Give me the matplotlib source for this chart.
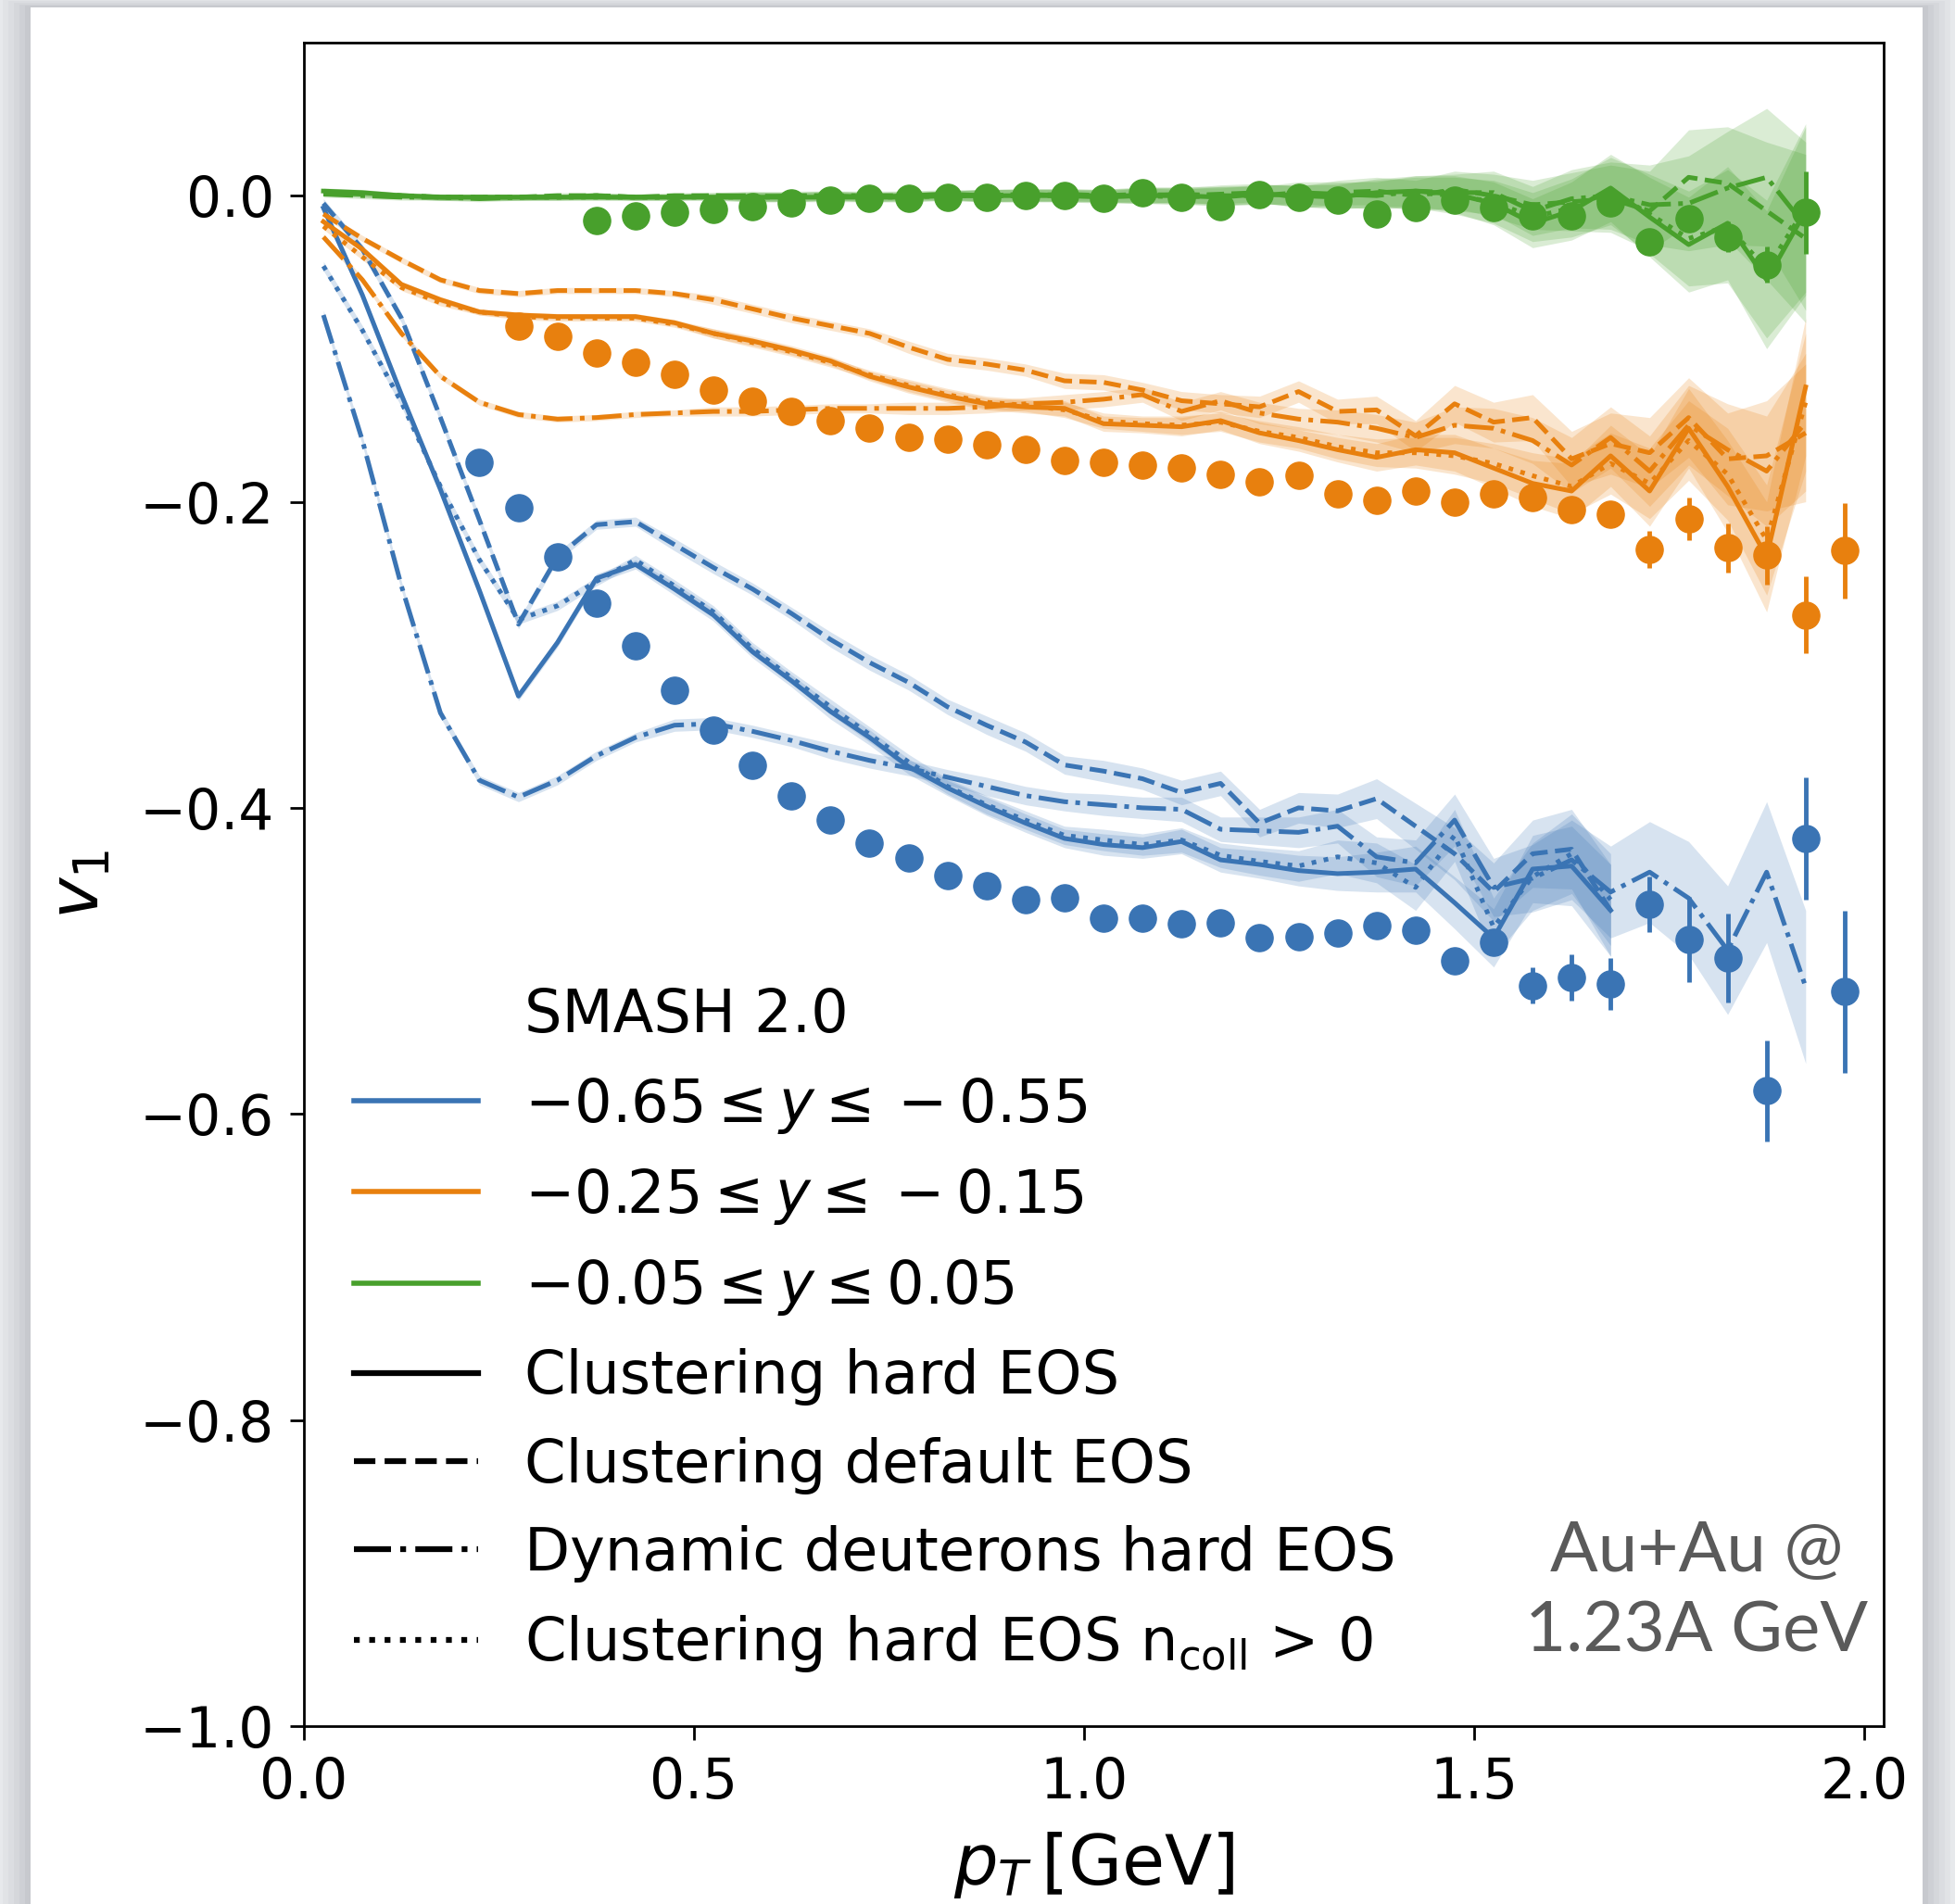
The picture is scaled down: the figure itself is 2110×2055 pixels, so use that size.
import matplotlib
matplotlib.use("Agg")
import matplotlib.pyplot as plt
from matplotlib.lines import Line2D
from matplotlib.patches import Rectangle
import numpy as np

# ---------------- data ----------------
pt_model = [0.025, 0.075, 0.125, 0.175, 0.225, 0.275, 0.325, 0.375, 0.425, 0.475,
            0.525, 0.575, 0.625, 0.675, 0.725, 0.775, 0.825, 0.875, 0.925, 0.975,
            1.025, 1.075, 1.125, 1.175, 1.225, 1.275, 1.325, 1.375, 1.425, 1.475,
            1.525, 1.575, 1.625, 1.675, 1.725, 1.775, 1.825, 1.875, 1.925]

# -0.65 <= y <= -0.55 (solid/dashed/dotted stop at 1.675)
blue_hard = [-0.008, -0.065, -0.130, -0.192, -0.258, -0.327, -0.292, -0.250, -0.241, -0.257,
             -0.274, -0.298, -0.317, -0.337, -0.354, -0.373, -0.387, -0.399, -0.410, -0.420,
             -0.424, -0.426, -0.422, -0.434, -0.437, -0.441, -0.443, -0.442, -0.440, -0.462,
             -0.485, -0.440, -0.438, -0.467]
blue_default = [-0.005, -0.035, -0.080, -0.145, -0.212, -0.280, -0.236, -0.215, -0.213, -0.228,
                -0.243, -0.257, -0.273, -0.290, -0.305, -0.318, -0.334, -0.346, -0.357, -0.372,
                -0.376, -0.381, -0.390, -0.384, -0.410, -0.400, -0.402, -0.394, -0.412, -0.430,
                -0.455, -0.430, -0.427, -0.467]
blue_ncoll = [-0.046, -0.088, -0.135, -0.190, -0.238, -0.277, -0.268, -0.252, -0.238, -0.255,
              -0.272, -0.296, -0.315, -0.334, -0.352, -0.370, -0.386, -0.398, -0.408, -0.418,
              -0.421, -0.424, -0.421, -0.431, -0.435, -0.438, -0.432, -0.436, -0.452, -0.418,
              -0.478, -0.445, -0.430, -0.460]
blue_dyn = [-0.078, -0.160, -0.255, -0.338, -0.382, -0.393, -0.382, -0.366, -0.354, -0.346,
            -0.345, -0.350, -0.356, -0.363, -0.369, -0.374, -0.380, -0.386, -0.392, -0.396,
            -0.398, -0.400, -0.401, -0.414, -0.415, -0.416, -0.412, -0.432, -0.436, -0.408,
            -0.452, -0.446, -0.434, -0.455, -0.442, -0.459, -0.493, -0.442, -0.517]

# -0.25 <= y <= -0.15
orange_hard = [-0.017, -0.035, -0.058, -0.068, -0.076, -0.078, -0.079, -0.079, -0.079, -0.083,
               -0.090, -0.095, -0.101, -0.108, -0.118, -0.125, -0.131, -0.136, -0.138, -0.139,
               -0.149, -0.150, -0.151, -0.147, -0.155, -0.160, -0.166, -0.171, -0.166, -0.168,
               -0.178, -0.188, -0.193, -0.170, -0.193, -0.152, -0.190, -0.236, -0.125]
orange_default = [-0.012, -0.028, -0.042, -0.055, -0.062, -0.064, -0.062, -0.062, -0.062, -0.064,
                  -0.068, -0.074, -0.080, -0.085, -0.090, -0.099, -0.107, -0.110, -0.114, -0.121,
                  -0.122, -0.127, -0.134, -0.136, -0.138, -0.128, -0.141, -0.140, -0.157, -0.136,
                  -0.148, -0.145, -0.172, -0.162, -0.168, -0.145, -0.172, -0.170, -0.155]
orange_dyn = [-0.027, -0.055, -0.090, -0.118, -0.135, -0.143, -0.146, -0.145, -0.143, -0.142,
              -0.141, -0.141, -0.140, -0.139, -0.139, -0.139, -0.139, -0.138, -0.136, -0.135,
              -0.133, -0.130, -0.141, -0.134, -0.142, -0.146, -0.148, -0.152, -0.158, -0.150,
              -0.152, -0.160, -0.176, -0.158, -0.180, -0.150, -0.166, -0.180, -0.148]
orange_ncoll = [-0.020, -0.040, -0.060, -0.070, -0.076, -0.079, -0.080, -0.080, -0.080, -0.084,
                -0.090, -0.096, -0.102, -0.109, -0.117, -0.124, -0.130, -0.135, -0.137, -0.140,
                -0.147, -0.149, -0.150, -0.148, -0.154, -0.158, -0.164, -0.168, -0.168, -0.170,
                -0.175, -0.183, -0.190, -0.175, -0.188, -0.160, -0.182, -0.225, -0.135]

# -0.05 <= y <= 0.05
green_hard = [0.003, 0.002, 0.000, -0.001, -0.001, -0.001, -0.001, -0.001, -0.001, -0.001,
              -0.001, -0.001, -0.001, -0.001, -0.001, -0.001, 0.000, 0.000, 0.000, 0.000,
              -0.001, 0.000, 0.000, -0.001, 0.001, 0.000, -0.001, 0.002, 0.003, 0.001,
              -0.005, -0.018, -0.010, 0.005, -0.014, -0.032, -0.018, -0.055, -0.010]
green_default = [0.002, 0.001, 0.000, -0.001, -0.001, -0.001, 0.000, 0.000, -0.001, 0.000,
                 0.000, -0.001, 0.000, 0.000, -0.001, 0.000, 0.000, 0.000, 0.001, 0.000,
                 0.000, 0.001, 0.000, 0.001, 0.002, -0.001, 0.002, 0.003, 0.000, 0.004,
                 0.000, -0.006, -0.004, -0.002, -0.010, 0.012, 0.008, -0.010, -0.028]
green_dyn = [0.001, 0.000, -0.001, -0.001, -0.002, -0.001, -0.001, 0.000, -0.001, -0.001,
             0.000, 0.000, -0.001, 0.000, 0.000, 0.000, 0.001, 0.000, 0.000, 0.001,
             0.000, 0.000, 0.001, 0.000, 0.000, 0.002, 0.001, 0.000, 0.003, 0.002,
             0.002, -0.010, -0.002, 0.000, -0.006, -0.005, 0.005, 0.012, -0.020]
green_ncoll = [0.002, 0.001, 0.000, -0.001, -0.001, -0.001, -0.001, -0.001, -0.001, -0.001,
               -0.001, -0.001, -0.001, 0.000, -0.001, -0.001, 0.000, 0.000, 0.000, 0.000,
               0.000, 0.000, -0.001, 0.000, 0.001, 0.000, 0.000, 0.001, 0.002, 0.000,
               -0.004, -0.014, -0.008, 0.003, -0.012, -0.028, -0.020, -0.048, -0.008]

# statistical bands (half widths) of the model curves
blue_band = [0.003, 0.003, 0.003, 0.003, 0.003, 0.003, 0.003, 0.003, 0.003, 0.004,
             0.004, 0.004, 0.004, 0.005, 0.005, 0.005, 0.005, 0.006, 0.006, 0.006,
             0.007, 0.007, 0.008, 0.008, 0.009, 0.010, 0.011, 0.013, 0.015, 0.017,
             0.019, 0.022, 0.026, 0.030, 0.033, 0.037, 0.042, 0.046, 0.050]
orange_band = [0.002, 0.002, 0.002, 0.002, 0.002, 0.002, 0.002, 0.002, 0.002, 0.002,
               0.003, 0.003, 0.003, 0.003, 0.003, 0.004, 0.004, 0.004, 0.004, 0.005,
               0.005, 0.005, 0.006, 0.006, 0.007, 0.007, 0.008, 0.009, 0.010, 0.012,
               0.013, 0.015, 0.018, 0.020, 0.023, 0.026, 0.030, 0.036, 0.045]
green_band = [0.002, 0.002, 0.002, 0.002, 0.002, 0.002, 0.002, 0.002, 0.002, 0.002,
              0.002, 0.003, 0.003, 0.003, 0.003, 0.003, 0.003, 0.004, 0.004, 0.004,
              0.004, 0.005, 0.005, 0.006, 0.006, 0.007, 0.008, 0.009, 0.010, 0.012,
              0.014, 0.016, 0.019, 0.022, 0.026, 0.031, 0.037, 0.045, 0.055]

# HADES data points
pt_data = [0.225, 0.275, 0.325, 0.375, 0.425, 0.475, 0.525, 0.575, 0.625, 0.675,
           0.725, 0.775, 0.825, 0.875, 0.925, 0.975, 1.025, 1.075, 1.125, 1.175,
           1.225, 1.275, 1.325, 1.375, 1.425, 1.475, 1.525, 1.575, 1.625, 1.675,
           1.725, 1.775, 1.825, 1.875, 1.925, 1.975]
nan = np.nan
blue_data = [-0.174, -0.204, -0.236, -0.266, -0.294, -0.323, -0.349, -0.372, -0.392, -0.408,
             -0.423, -0.433, -0.444, -0.451, -0.460, -0.459, -0.472, -0.472, -0.476, -0.475,
             -0.485, -0.484, -0.482, -0.477, -0.480, -0.500, -0.488, -0.516, -0.511, -0.515,
             -0.463, -0.486, -0.498, -0.585, -0.420, -0.520]
blue_err = [0.003, 0.003, 0.003, 0.003, 0.003, 0.003, 0.003, 0.003, 0.003, 0.003,
            0.003, 0.003, 0.003, 0.003, 0.003, 0.003, 0.003, 0.003, 0.003, 0.003,
            0.004, 0.004, 0.004, 0.004, 0.005, 0.006, 0.008, 0.012, 0.015, 0.017,
            0.018, 0.028, 0.029, 0.033, 0.040, 0.053]
orange_data = [nan, -0.085, -0.092, -0.103, -0.109, -0.117, -0.127, -0.134, -0.141, -0.147,
               -0.152, -0.158, -0.159, -0.163, -0.166, -0.173, -0.174, -0.176, -0.178, -0.182,
               -0.187, -0.183, -0.195, -0.199, -0.193, -0.200, -0.195, -0.197, -0.205, -0.208,
               -0.231, -0.211, -0.230, -0.235, -0.274, -0.232]
orange_err = [0.0, 0.002, 0.002, 0.002, 0.002, 0.002, 0.002, 0.002, 0.002, 0.002,
              0.002, 0.002, 0.002, 0.002, 0.002, 0.002, 0.002, 0.002, 0.003, 0.003,
              0.003, 0.003, 0.003, 0.004, 0.004, 0.004, 0.005, 0.005, 0.006, 0.008,
              0.012, 0.014, 0.016, 0.019, 0.025, 0.031]
green_data = [nan, nan, nan, -0.016, -0.013, -0.011, -0.009, -0.007, -0.005, -0.003,
              -0.002, -0.002, -0.001, -0.001, 0.000, 0.000, -0.002, 0.002, -0.001, -0.007,
              0.001, -0.001, -0.003, -0.012, -0.008, -0.003, -0.008, -0.013, -0.013, -0.005,
              -0.030, -0.015, -0.027, -0.045, -0.011, nan]
green_err = [0.0, 0.0, 0.0, 0.002, 0.002, 0.002, 0.002, 0.002, 0.002, 0.002,
             0.002, 0.002, 0.002, 0.002, 0.002, 0.002, 0.002, 0.002, 0.002, 0.002,
             0.002, 0.002, 0.003, 0.003, 0.003, 0.003, 0.004, 0.004, 0.005, 0.005,
             0.006, 0.008, 0.010, 0.012, 0.027, 0.0]

rap_labels = [r"$-0.65 \leq y \leq -0.55$",
              r"$-0.25 \leq y \leq -0.15$",
              r"$-0.05 \leq y \leq 0.05$"]
model_labels = ["Clustering hard EOS", "Clustering default EOS",
                "Dynamic deuterons hard EOS",
                r"Clustering hard EOS n$_{\mathrm{coll}}$ > 0"]

BLUE = "#3a74b4"
ORANGE = "#e8800e"
GREEN = "#48a02c"

# ---------------- figure ----------------
fig = plt.figure(figsize=(21.1, 20.55), dpi=100, facecolor="#e7e9ec")

# slide card with a soft shadow
for i, a in enumerate([0.05, 0.05, 0.06, 0.07, 0.08]):
    d = (5 - i) * 0.0028
    fig.add_artist(Rectangle((0.0156 - d, -0.05), 0.9678 + 2 * d, 1.0461 + d * 0.3,
                             transform=fig.transFigure, facecolor="#7a7f88",
                             edgecolor="none", alpha=a, zorder=0))
fig.add_artist(Rectangle((0.0156, -0.05), 0.9678, 1.0461, transform=fig.transFigure,
                         facecolor="white", edgecolor="none", zorder=0))

ax = fig.add_axes([0.15545, 0.09343, 0.80806, 0.88419])
ax.set_zorder(2)

styles = ["-", "--", "-.", ":"]
groups = [
    (BLUE, [blue_hard, blue_default, blue_dyn, blue_ncoll], blue_band),
    (ORANGE, [orange_hard, orange_default, orange_dyn, orange_ncoll], orange_band),
    (GREEN, [green_hard, green_default, green_dyn, green_ncoll], green_band),
]

for color, curves, band in groups:
    for vals, ls in zip(curves, styles):
        n = len(vals)
        x = np.array(pt_model[:n])
        y = np.array(vals)
        e = np.array(band[:n])
        ax.fill_between(x, y - e, y + e, color=color, alpha=0.2, lw=0, zorder=1)
        ax.plot(x, y, ls=ls, color=color, lw=3.6, zorder=2)

for color, vals, err in [(BLUE, blue_data, blue_err),
                         (ORANGE, orange_data, orange_err),
                         (GREEN, green_data, green_err)]:
    ax.errorbar(pt_data, vals, yerr=err, fmt="o", color=color, ms=21,
                elinewidth=3.5, capsize=0, zorder=4)

ax.set_xlim(0, 2.025)
ax.set_ylim(-1.0, 0.1)
ax.set_xticks([0.0, 0.5, 1.0, 1.5, 2.0])
ax.set_yticks([0.0, -0.2, -0.4, -0.6, -0.8, -1.0])
ax.tick_params(labelsize=43, length=11, width=2, pad=12)
for s in ax.spines.values():
    s.set_linewidth(2)

ax.set_xlabel(r"$p_T\,[\mathrm{GeV}]$", fontsize=54, labelpad=15)
ax.set_ylabel(r"$v_1$", fontsize=54, labelpad=20)

# legend
handles = [Line2D([], [], color="none", lw=0)]
handles += [Line2D([], [], color=c, lw=4) for c in [BLUE, ORANGE, GREEN]]
handles += [Line2D([], [], color="black", lw=4.5, ls=ls) for ls in styles]
labels = ["SMASH 2.0"] + rap_labels + model_labels
ax.legend(handles, labels, loc="upper left", bbox_to_anchor=(0.024, 0.446),
          frameon=False, fontsize=46, handlelength=2.1, handletextpad=0.78,
          labelspacing=0.52, borderpad=0.2, borderaxespad=0)

# slide annotation in a thin sans face
ax.text(1.785, -0.912, "Au+Au @\n1.23A GeV", ha="center", va="center",
        fontsize=55, color="#5a5a5a", family="Lato", fontweight="normal",
        linespacing=1.3, zorder=5)

fig.savefig("out.png", dpi=100, facecolor=fig.get_facecolor())
